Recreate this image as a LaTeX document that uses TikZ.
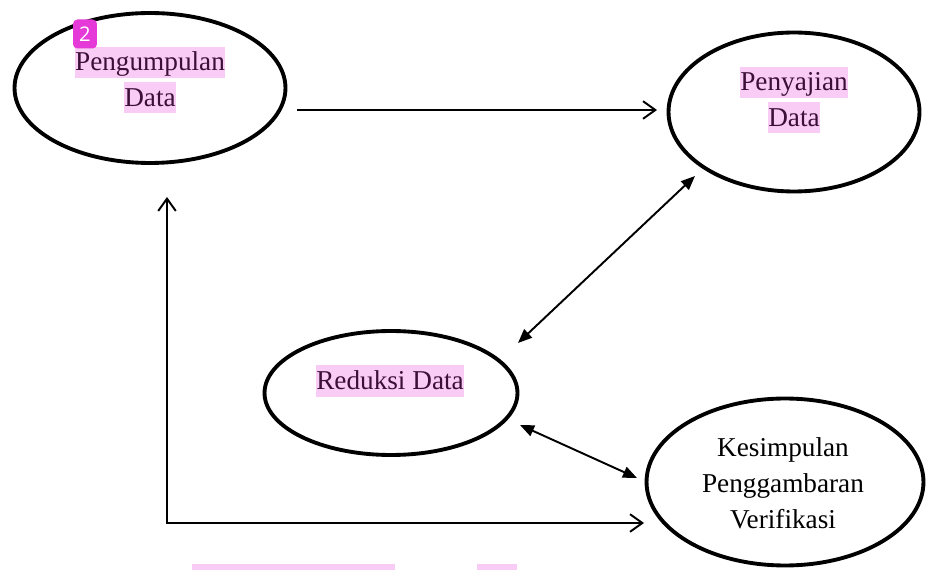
\documentclass[tikz,border=0pt]{standalone}
\usepackage{fontspec}
\setmainfont{Liberation Serif}
\newfontfamily\lencanafont{Open Sans}
\usepackage{tikz}
\usetikzlibrary{shapes.geometric,arrows.meta}
\definecolor{stabilo}{RGB}{248,204,244}
\definecolor{stabiloteks}{RGB}{60,15,55}
\definecolor{lencana}{RGB}{230,58,216}
\newcommand{\stabilo}[1]{{\setlength{\fboxsep}{0pt}\colorbox{stabilo}{\rule[-0.26em]{0pt}{1.14em}\textcolor{stabiloteks}{#1}}}}

\begin{document}
\begin{tikzpicture}[x=0.02cm, y=-0.02cm,
  tahap/.style={draw, ellipse, line width=2.2pt, inner sep=0pt},
  teks/.style={align=center, inner sep=0pt, font=\fontsize{15.5}{20.4}\selectfont},
  panah/.style={line width=1.1pt, -{Straight Barb[length=7pt,width=10pt]}},
  duabarb/.style={line width=1.1pt, {Straight Barb[length=7pt,width=10pt]}-{Straight Barb[length=7pt,width=10pt]}},
  duaarah/.style={line width=1.1pt, {Triangle[length=8pt,width=6.5pt]}-{Triangle[length=8pt,width=6.5pt]}}]
\useasboundingbox (0,0) rectangle (926,570);

\node[tahap, minimum width=5.42cm, minimum height=3.0cm] at (150,88)(pengumpulan){};
\node[tahap, minimum width=5.02cm, minimum height=3.18cm] at (794,112)(penyajian){};
\node[tahap, minimum width=5.06cm, minimum height=2.48cm] at (391,393)(reduksi){};
\node[tahap, minimum width=5.54cm, minimum height=3.34cm] at (785,482)(kesimpulan){};

\node[teks] at (150,80)(pengumpulan-teks){\stabilo{Pengumpulan}\\\stabilo{Data}};
\node[teks] at (794,100)(penyajian-teks){\stabilo{Penyajian}\\\stabilo{Data}};
\node[teks] at (390,381)(reduksi-teks){\stabilo{Reduksi Data}};
\node[teks] at (783,483)(kesimpulan-teks){Kesimpulan\\Penggambaran\\Verifikasi};

\node[fill=lencana, rounded corners=2.5pt, text=white, inner sep=0pt, minimum width=0.48cm, minimum height=0.58cm, font=\lencanafont\fontsize{11.5}{13}\selectfont] at (85,34)(lencana){2};

\coordinate (pengumpulan-keluar) at (297,110);
\coordinate (penyajian-masuk) at (657,110);
\coordinate (reduksi-atas) at (518,343);
\coordinate (penyajian-bawah) at (695,176);
\coordinate (reduksi-kanan) at (520,425);
\coordinate (kesimpulan-kiri) at (637,478);
\coordinate (kesimpulan-bawah) at (644,523);
\coordinate (pengumpulan-bawah) at (167,197);

\draw[panah] (pengumpulan-keluar) -- (penyajian-masuk);
\draw[duaarah] (reduksi-atas) -- (penyajian-bawah);
\draw[duaarah] (reduksi-kanan) -- (kesimpulan-kiri);
\draw[duabarb] (kesimpulan-bawah) -| (pengumpulan-bawah);

\fill[stabilo] (192,564) rectangle (395,570);
\fill[stabilo] (477,564) rectangle (517,570);
\end{tikzpicture}
\end{document}
